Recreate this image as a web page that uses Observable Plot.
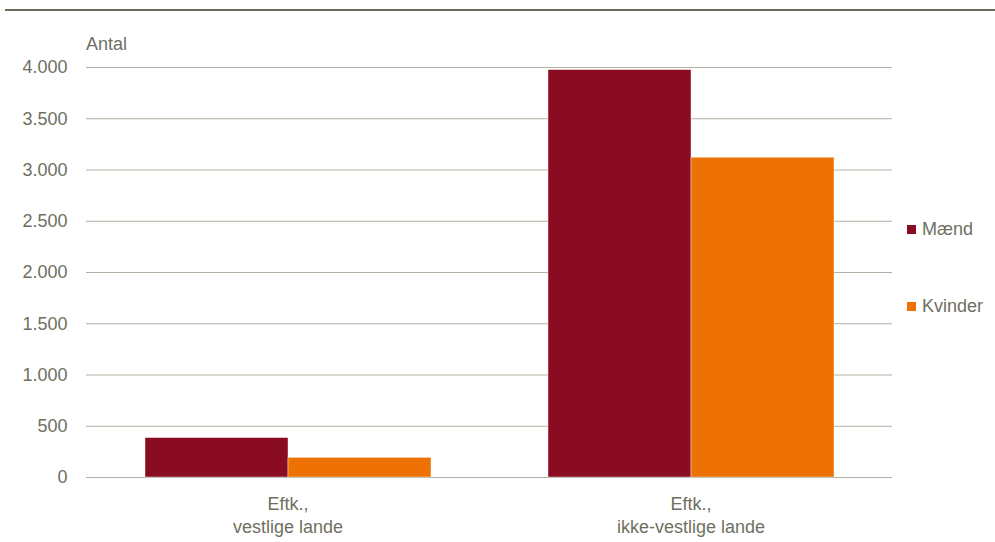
<!DOCTYPE html>
<html>
<head>
<meta charset="utf-8">
<script src="https://cdn.jsdelivr.net/npm/d3@7"></script>
<script src="https://cdn.jsdelivr.net/npm/@observablehq/plot@0.6"></script>
<style>
  html, body { margin: 0; padding: 0; background: #fff; }
  #wrap { position: relative; width: 995px; height: 542px; overflow: hidden;
    font-family: "Liberation Sans Narrow", "Arial Narrow", "Liberation Sans", Arial, sans-serif; color: #6f6f5f; }
  #rule { position: absolute; left: 5px; top: 9px; width: 990px; height: 2px; background: #6d6b5b; }
  #ylabel { position: absolute; left: 86px; top: 35px; font-size: 18px; line-height: 18px; }
  .leg { position: absolute; left: 907px; font-size: 18px; line-height: 18px; display: flex; align-items: center; }
  .leg span.sw { display: inline-block; width: 9px; height: 9px; margin-right: 6px; }
  #chart { position: absolute; left: 0; top: 0; }
</style>
</head>
<body>
<div id="wrap">
  <div id="chart"></div>
  <div id="rule"></div>
  <div id="ylabel"></div>
  <div id="legend"></div>
</div>
<script>
const groups = ["Eftk., vestlige lande", "Eftk., ikke-vestlige lande"];
const groupLabels = ["Eftk.,\nvestlige lande", "Eftk.,\nikke-vestlige lande"];
const sexes = ["Mænd", "Kvinder"];
const maend = [385, 3975];
const kvinder = [192, 3120];
const colors = ["#8a0c22", "#ee7203"];
const yTicks = [0, 500, 1000, 1500, 2000, 2500, 3000, 3500, 4000];
const yLabel = "Antal";

const data = [];
groups.forEach((g, i) => {
  data.push({group: g, sex: sexes[0], value: maend[i]});
  data.push({group: g, sex: sexes[1], value: kvinder[i]});
});
const labelData = groups.map((g, i) => ({group: g, label: groupLabels[i]}));

const fmt = d3.formatLocale({decimal: ",", thousands: ".", grouping: [3], currency: ["", " kr."]}).format(",d");
const font = '"Liberation Sans Narrow", "Arial Narrow", "Liberation Sans", Arial, sans-serif';

const chart = Plot.plot({
  width: 995,
  height: 542,
  marginLeft: 85,
  marginRight: 103,
  marginTop: 67,
  marginBottom: 65,
  style: {fontFamily: font, fontSize: "18px", color: "#6f6f5f", background: "transparent"},
  fx: {domain: groups, padding: 0, axis: null},
  x: {domain: sexes, paddingInner: 0, paddingOuter: 0.406, axis: null},
  y: {domain: [0, 4000]},
  color: {domain: sexes, range: colors},
  marks: [
    Plot.ruleY(yTicks, {stroke: "#b3b1a3", strokeWidth: 1}),
    Plot.barY(data, {fx: "group", x: "sex", y: "value", fill: "sex", stroke: "white", strokeWidth: 0.6, strokeOpacity: 0.7}),
    Plot.axisY({ticks: yTicks, tickSize: 0, tickPadding: 19, tickFormat: fmt, label: null, fontSize: 18}),
    Plot.text(labelData, {fx: "group", text: "label", frameAnchor: "bottom", lineAnchor: "top", dy: 17, lineHeight: 1.25, fill: "#6f6f5f", fontSize: 18})
  ]
});
document.getElementById("chart").appendChild(chart);
document.getElementById("ylabel").textContent = yLabel;

const legend = document.getElementById("legend");
const legTops = [220, 297];
sexes.forEach((s, i) => {
  const d = document.createElement("div");
  d.className = "leg";
  d.style.top = legTops[i] + "px";
  d.innerHTML = `<span class="sw" style="background:${colors[i]}"></span><span>${s}</span>`;
  legend.appendChild(d);
});
</script>
</body>
</html>
